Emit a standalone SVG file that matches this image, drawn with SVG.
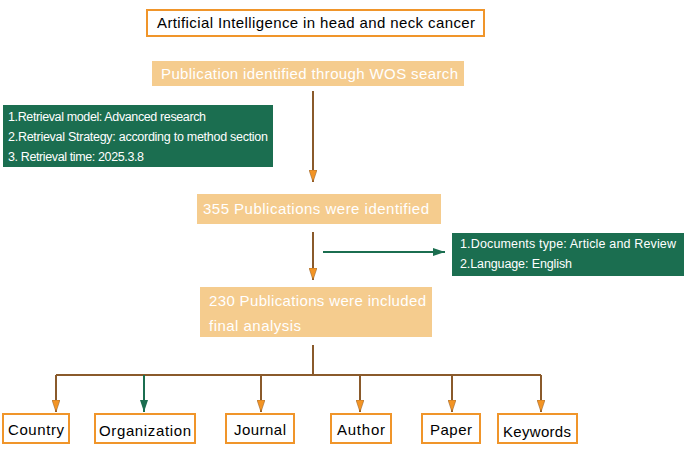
<svg xmlns="http://www.w3.org/2000/svg" width="685" height="449" viewBox="0 0 685 449">
<style>
text{font-family:"Liberation Sans",Arial,sans-serif;}
.ob{fill:#fff;stroke:#f0952a;stroke-width:2}
.pb{fill:#f5cc8e}
.gb{fill:#1b6e50}
.pt{fill:#fff;font-size:15px}
.gt{fill:#fff;font-size:12.5px}
.bt{fill:#000;font-size:15px}
.ln{stroke:#8a5a2b;stroke-width:2;fill:none}
</style>
<defs>
<marker id="ao" markerWidth="12" markerHeight="8" refX="12" refY="4" orient="auto" markerUnits="userSpaceOnUse" viewBox="0 0 12 8"><path d="M0,0 L12,4 L0,8 Z" fill="#f39424" stroke="#8a5a2b" stroke-width="0.5"/></marker>
<marker id="ag" markerWidth="12" markerHeight="8" refX="12" refY="4" orient="auto" markerUnits="userSpaceOnUse" viewBox="0 0 12 8"><path d="M0,0 L12,4 L0,8 Z" fill="#1b6e50"/></marker>
</defs>
<g id="connectors">
<line class="ln" x1="313" y1="91" x2="313" y2="182" marker-end="url(#ao)"/>
<line class="ln" x1="313" y1="232" x2="313" y2="280" marker-end="url(#ao)"/>
<line x1="323" y1="252" x2="445" y2="252" stroke="#1b6e50" stroke-width="2" marker-end="url(#ag)"/>
<line class="ln" x1="313" y1="345" x2="313" y2="375"/>
<line class="ln" x1="56" y1="375" x2="541" y2="375"/>
<line class="ln" x1="56" y1="375" x2="56" y2="412" marker-end="url(#ao)"/>
<line x1="144" y1="375" x2="144" y2="412" stroke="#1b6e50" stroke-width="2" marker-end="url(#ag)"/>
<line class="ln" x1="261" y1="375" x2="261" y2="412" marker-end="url(#ao)"/>
<line class="ln" x1="360" y1="375" x2="360" y2="412" marker-end="url(#ao)"/>
<line class="ln" x1="452" y1="375" x2="452" y2="412" marker-end="url(#ao)"/>
<line class="ln" x1="541" y1="375" x2="541" y2="412" marker-end="url(#ao)"/>
</g>
<g id="title"><rect class="ob" x="147" y="10" width="337" height="26"/><text class="bt" x="157" y="28" textLength="318">Artificial Intelligence in head and neck cancer</text></g>
<g id="wos"><rect class="pb" x="152" y="61" width="312" height="25"/><text class="pt" x="161" y="79" textLength="297">Publication identified through WOS search</text></g>
<g id="retrieval"><rect class="gb" x="3" y="105" width="270" height="62"/>
<text class="gt" x="8" y="121" textLength="198">1.Retrieval model: Advanced research</text>
<text class="gt" x="8" y="141" textLength="260">2.Retrieval Strategy: according to method section</text>
<text class="gt" x="8" y="161" textLength="136">3. Retrieval time: 2025.3.8</text></g>
<g id="p355"><rect class="pb" x="197" y="194" width="244" height="30"/><text class="pt" x="203" y="214" textLength="226">355 Publications were identified</text></g>
<g id="filters"><rect class="gb" x="452" y="233" width="232" height="43"/>
<text class="gt" x="460" y="248" textLength="216">1.Documents type: Article and Review</text>
<text class="gt" x="460" y="268" textLength="112">2.Language: English</text></g>
<g id="p230"><rect class="pb" x="200" y="287" width="232" height="50"/>
<text class="pt" x="209" y="306" textLength="217">230 Publications were included</text>
<text class="pt" x="209" y="331" textLength="92">final analysis</text></g>
<g id="country"><rect class="ob" x="3" y="414" width="66" height="29"/><text class="bt" x="36" y="435" text-anchor="middle" textLength="56">Country</text></g>
<g id="organization"><rect class="ob" x="95" y="414" width="100" height="29"/><text class="bt" x="145" y="436" text-anchor="middle" textLength="92">Organization</text></g>
<g id="journal"><rect class="ob" x="226" y="414" width="68" height="29"/><text class="bt" x="260" y="435" text-anchor="middle" textLength="52">Journal</text></g>
<g id="author"><rect class="ob" x="331" y="414" width="60" height="29"/><text class="bt" x="361" y="435" text-anchor="middle" textLength="48">Author</text></g>
<g id="paper"><rect class="ob" x="422" y="414" width="58" height="29"/><text class="bt" x="451" y="435" text-anchor="middle" textLength="42">Paper</text></g>
<g id="keywords"><rect class="ob" x="498" y="414" width="79" height="29"/><text class="bt" x="537" y="437" text-anchor="middle" textLength="68">Keywords</text></g>
</svg>
